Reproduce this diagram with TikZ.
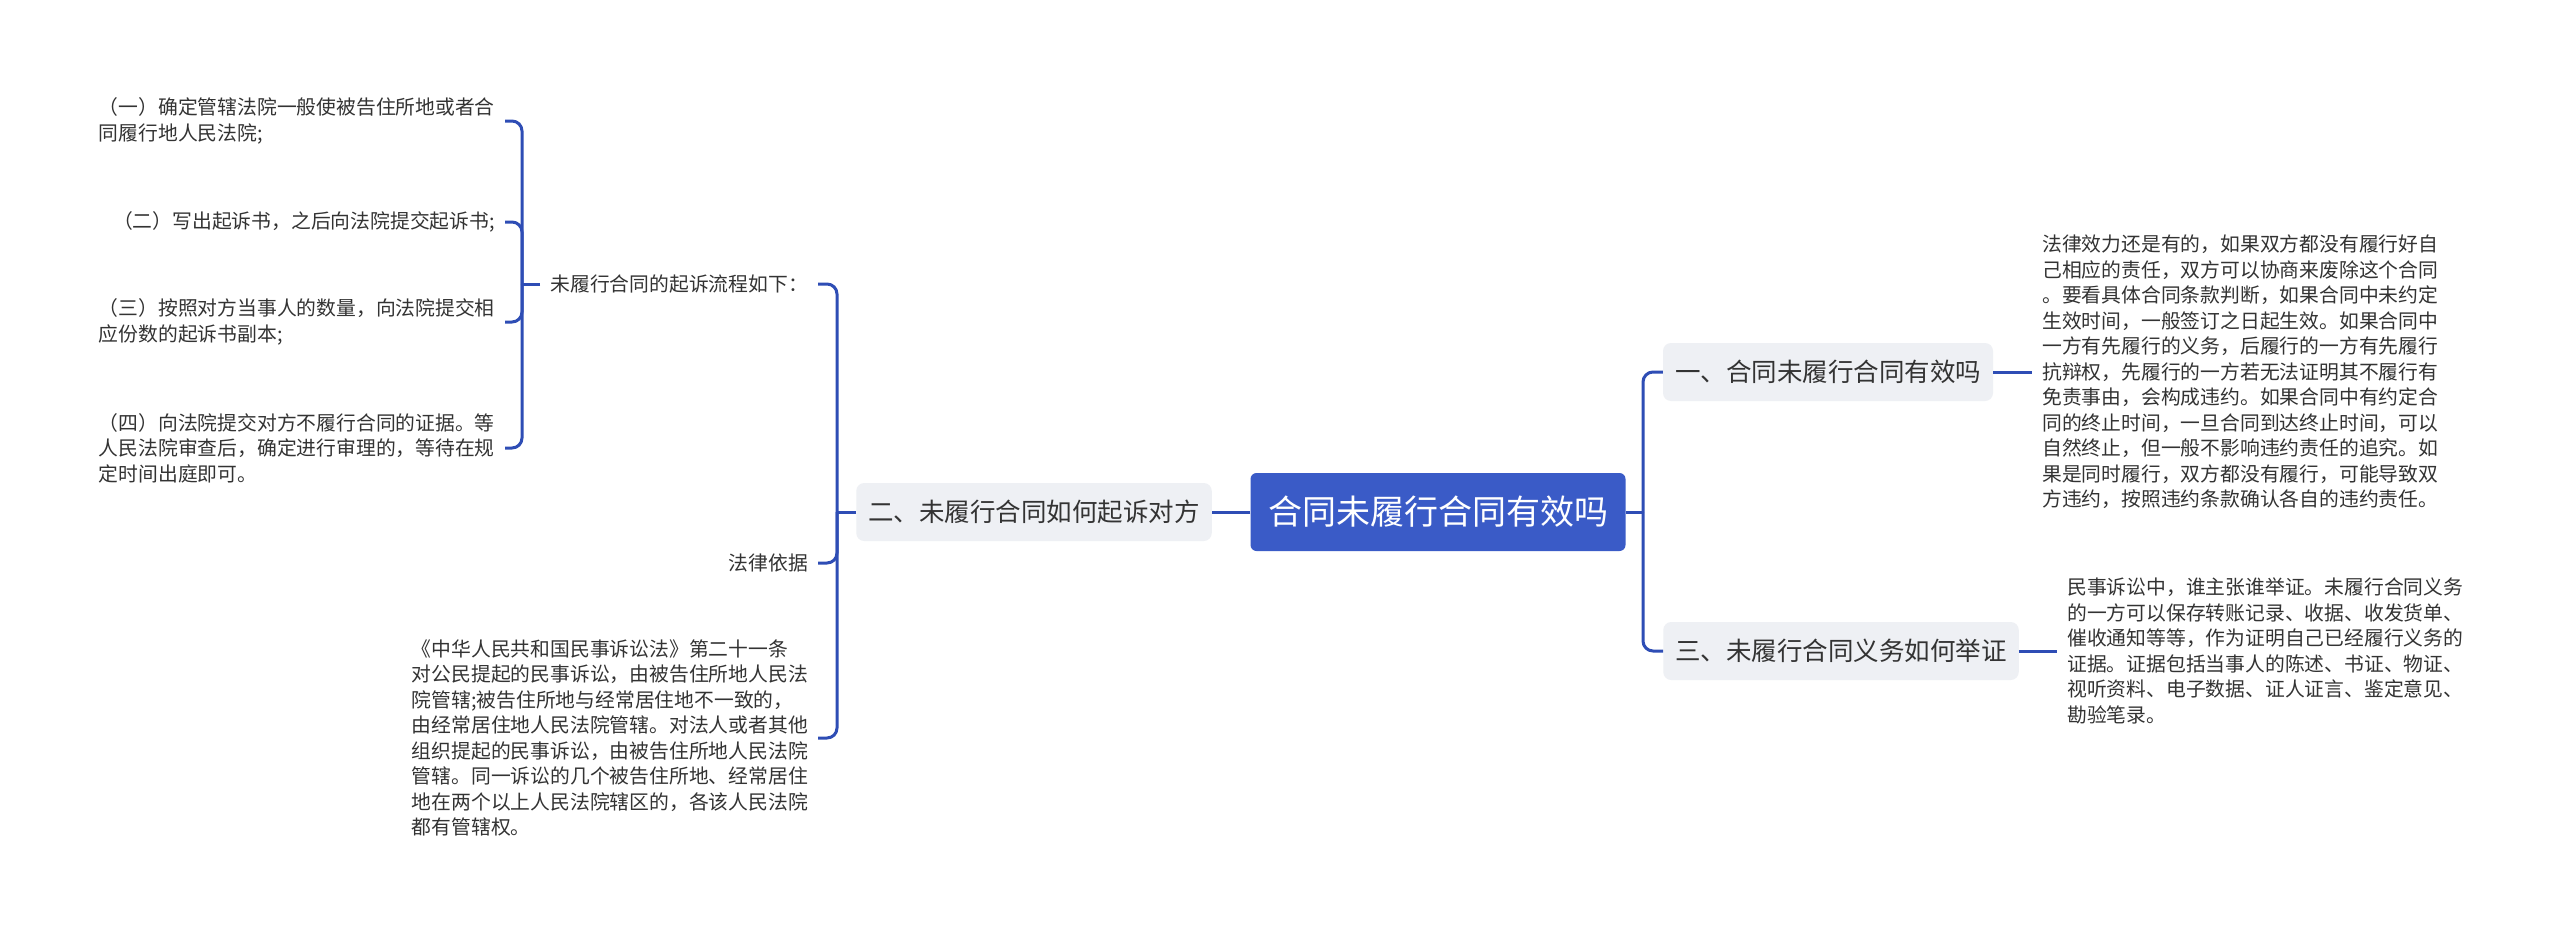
\documentclass[tikz,border=0pt]{standalone}
\usepackage{fontspec}
\setmainfont{Noto Sans CJK SC}
\definecolor{rootblue}{RGB}{58,91,199}
\definecolor{lineblue}{RGB}{46,77,181}
\definecolor{topicgray}{RGB}{238,240,244}
\definecolor{textdark}{RGB}{51,51,51}
\newcommand{\leaffont}{\fontsize{19.8pt}{25.5pt}\selectfont}
\newcommand{\topicfont}{\fontsize{25.5pt}{30pt}\selectfont}
\newcommand{\rootfont}{\fontsize{34pt}{40pt}\selectfont}
\tikzset{
    rootbox/.style={
        rectangle,
        fill=rootblue,
        text=white,
        rounded corners=6pt,
        minimum width=375pt,
        minimum height=78pt,
        inner sep=0pt,
        font=\rootfont
    },
    topicbox/.style={
        rectangle,
        fill=topicgray,
        text=textdark,
        rounded corners=8pt,
        minimum height=58pt,
        inner xsep=12pt,
        inner ysep=0pt,
        font=\topicfont
    },
    leafnote/.style={
        text=textdark,
        align=left,
        inner xsep=10pt,
        inner ysep=0pt,
        font=\leaffont
    },
    conn/.style={draw=lineblue,line width=3pt,rounded corners=10pt}
}

\begin{document}
\begin{tikzpicture}[x=1pt,y=-1pt]
\fill[white] (0,0) rectangle (2560,937);

\node[rootbox] (main) at (1438,512) {合同未履行合同有效吗};

\node[topicbox] (t1) at (1828,372) {一、合同未履行合同有效吗};
\node[topicbox] (t2) at (1034,512) {二、未履行合同如何起诉对方};
\node[topicbox] (t3) at (1841,651) {三、未履行合同义务如何举证};

\node[leafnote,anchor=west] (d1) at (2032,372) {法律效力还是有的，如果双方都没有履行好自\\己相应的责任，双方可以协商来废除这个合同\\。要看具体合同条款判断，如果合同中未约定\\生效时间，一般签订之日起生效。如果合同中\\一方有先履行的义务，后履行的一方有先履行\\抗辩权，先履行的一方若无法证明其不履行有\\免责事由，会构成违约。如果合同中有约定合\\同的终止时间，一旦合同到达终止时间，可以\\自然终止，但一般不影响违约责任的追究。如\\果是同时履行，双方都没有履行，可能导致双\\方违约，按照违约条款确认各自的违约责任。};
\node[leafnote,anchor=west] (d3) at (2057,651) {民事诉讼中，谁主张谁举证。未履行合同义务\\的一方可以保存转账记录、收据、收发货单、\\催收通知等等，作为证明自己已经履行义务的\\证据。证据包括当事人的陈述、书证、物证、\\视听资料、电子数据、证人证言、鉴定意见、\\勘验笔录。};

\node[leafnote,anchor=east] (flow) at (818,284) {未履行合同的起诉流程如下：};
\node[leafnote,anchor=east] (basis) at (818,563) {法律依据};
\node[leafnote,anchor=east] (law) at (818,738) {《中华人民共和国民事诉讼法》第二十一条\\对公民提起的民事诉讼，由被告住所地人民法\\院管辖;被告住所地与经常居住地不一致的，\\由经常居住地人民法院管辖。对法人或者其他\\组织提起的民事诉讼，由被告住所地人民法院\\管辖。同一诉讼的几个被告住所地、经常居住\\地在两个以上人民法院辖区的，各该人民法院\\都有管辖权。};

\node[leafnote,anchor=east] (s1) at (505,121) {（一）确定管辖法院一般使被告住所地或者合\\同履行地人民法院;};
\node[leafnote,anchor=east] (s2) at (505,222) {（二）写出起诉书，之后向法院提交起诉书;};
\node[leafnote,anchor=east] (s3) at (505,322) {（三）按照对方当事人的数量，向法院提交相\\应份数的起诉书副本;};
\node[leafnote,anchor=east] (s4) at (505,448) {（四）向法院提交对方不履行合同的证据。等\\人民法院审查后，确定进行审理的，等待在规\\定时间出庭即可。};

\coordinate (jr) at (1643,512);
\coordinate (jl) at (837,512);
\coordinate (jf) at (522,284);

\draw[conn] (main) -- (t2);
\draw[conn] (main.east) -- (jr);
\draw[conn] (jr) |- (t1.west);
\draw[conn] (jr) |- (t3.west);
\draw[conn] (t1.east) -- (d1.west);
\draw[conn] (t3.east) -- (d3.west);

\draw[conn] (t2.west) -- (jl);
\draw[conn] (jl) |- (flow.east);
\draw[conn] (jl) |- (basis.east);
\draw[conn] (jl) |- (law.east);

\draw[conn] (flow.west) -- (jf);
\foreach \s in {s1,s2,s3,s4}
    \draw[conn] (jf) |- (\s.east);
\end{tikzpicture}
\end{document}
